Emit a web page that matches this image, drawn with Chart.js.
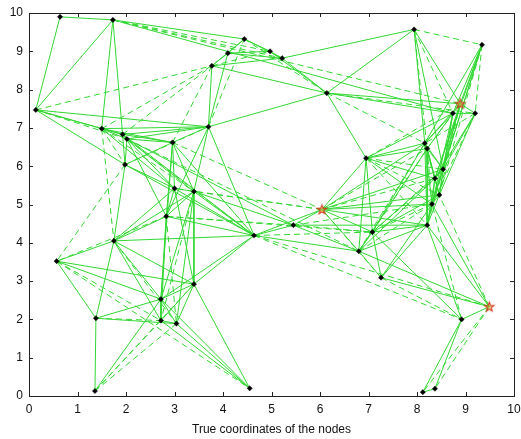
<!DOCTYPE html>
<html><head><meta charset="utf-8">
<script src="https://cdn.jsdelivr.net/npm/chart.js@4"></script>
<style>html,body{margin:0;padding:0;background:#fff;} #wrap{width:521px;height:439px;}</style>
</head><body><div id="wrap"><canvas id="c" width="521" height="439"></canvas></div>
<script>
// ---- data ----
const nodeX = [0.64,1.73,0.14,1.50,1.93,2.02,1.98,2.96,3.70,3.77,4.10,4.44,4.97,5.22,6.14,7.94,9.34,8.89,8.74,9.20,8.16,8.21,8.54,8.37,8.46,8.31,8.21,6.95,7.08,6.80,7.26,6.04,5.45,4.64,3.00,3.40,2.83,1.75,0.57,3.40,2.72,1.38,2.72,3.04,1.36,4.55,8.92,9.49,8.12,8.37];
const nodeY = [9.90,9.82,7.47,6.98,6.83,6.71,6.04,6.62,7.03,8.62,8.95,9.32,9.00,8.82,7.91,9.57,9.17,7.63,7.38,7.38,6.60,6.46,5.92,5.68,5.25,5.01,4.46,6.21,4.28,3.78,3.09,4.87,4.46,4.19,5.42,5.34,4.69,4.05,3.52,2.92,2.53,2.03,1.97,1.89,0.13,0.20,2.00,2.33,0.10,0.19];
const anchorIdx = [17, 31, 47];
const tickValues = [0,1,2,3,4,5,6,7,8,9,10];
const xTitle = 'True coordinates of the nodes';
const solidEdges = [
[0,1],[0,2],[1,2],[1,3],[1,4],[1,11],[1,18],
[2,3],[2,4],[2,8],[2,6],
[3,4],[3,5],[3,7],[3,8],[3,34],
[4,5],[4,6],[4,7],[4,8],[4,34],[4,33],
[5,6],[5,7],[5,8],[5,35],[5,36],[5,32],
[6,7],[6,37],[6,34],[6,33],
[7,8],[7,34],[7,35],[7,36],[7,33],[7,40],
[8,9],[8,10],[8,14],[8,33],[8,35],[8,36],
[9,10],[9,11],[9,13],[9,14],
[10,11],[10,12],[10,13],
[11,12],[11,13],[12,13],[12,14],[13,14],[13,15],
[14,15],[14,17],[14,18],[14,27],
[15,17],[15,20],[15,22],
[16,17],[16,18],[16,20],[16,22],[16,23],[16,25],
[17,18],[17,19],[17,20],[17,22],[17,23],[17,25],
[18,19],[18,20],[18,21],[18,22],[18,24],[18,26],[18,27],
[19,22],[19,23],[19,24],
[20,21],[20,22],[20,23],[20,25],[20,26],
[21,22],[21,23],[21,24],[21,26],
[22,23],[22,24],[22,25],[23,24],[23,25],[23,26],[24,25],[24,26],[25,26],
[27,20],[27,21],[27,23],[27,25],[27,28],[27,29],[27,31],
[28,20],[28,22],[28,24],[28,26],[28,29],[28,30],[28,31],[28,46],
[29,21],[29,23],[29,26],[29,30],[29,31],[29,32],[29,33],[29,47],
[30,25],[30,26],[30,47],
[31,20],[31,22],[31,24],[31,25],[31,26],[31,32],[31,33],
[32,33],[32,35],[32,26],
[33,34],[33,35],[33,36],[33,37],[33,39],[33,40],
[34,35],[34,36],[34,37],[34,39],
[35,36],[35,37],[35,39],[35,40],[35,43],
[36,37],[36,40],[36,42],
[37,38],[37,39],[37,40],[37,41],[37,42],
[38,39],[38,40],[38,41],
[39,40],[39,42],[39,43],[39,45],
[40,41],[40,42],[40,43],[40,44],[40,45],
[41,43],[41,44],[42,43],[42,45],[43,45],
[46,47],[46,48],[46,49],[46,26],[47,26],[47,25],[48,49]
];
const dashedEdges = [
[1,13],[1,17],[1,12],[2,5],[2,9],[3,6],[3,9],[3,37],[4,9],[6,38],[6,8],[7,9],[7,31],[8,11],[9,12],[11,14],
[14,19],[14,20],[15,16],[15,18],[15,21],[16,19],[16,24],[17,21],[17,24],[17,27],[19,20],[19,25],
[20,24],[21,25],[22,26],[27,22],[27,24],[27,26],[28,21],[28,23],[28,25],[29,20],[29,25],[30,31],[31,21],
[31,23],[31,35],[31,34],[32,25],[32,36],[32,28],[33,28],[36,28],[5,29],[36,38],[35,42],[36,43],[37,43],
[38,42],[38,45],[39,44],[41,42],[42,44],[43,44],[46,25],[47,48],[47,49],[30,46],[47,24],[5,33],[3,35],
[33,46],[33,47]
];

// ---- styling / construction ----
const GREEN = 'rgb(50,216,50)';
function edgeDataset(e, dashed) {
  return {
    type: 'scatter', showLine: true,
    data: [{x: nodeX[e[0]], y: nodeY[e[0]]}, {x: nodeX[e[1]], y: nodeY[e[1]]}],
    borderColor: GREEN, borderWidth: 1, borderDash: dashed ? [6, 4] : [],
    pointRadius: 0, pointHoverRadius: 0, fill: false, tension: 0, order: 2
  };
}
function starCanvas() {
  const c = document.createElement('canvas'); c.width = 13; c.height = 13;
  const g = c.getContext('2d'); g.beginPath();
  for (let i = 0; i < 10; i++) {
    const r = i % 2 ? 2.0 : 4.9, a = -Math.PI / 2 + i * Math.PI / 5;
    const px = 6.5 + r * Math.cos(a), py = 6.8 + r * Math.sin(a);
    if (i) g.lineTo(px, py); else g.moveTo(px, py);
  }
  g.closePath(); g.fillStyle = 'rgba(235,170,70,0.55)'; g.fill();
  g.strokeStyle = '#d4381c'; g.lineWidth = 1.1; g.stroke();
  return c;
}
const datasets = [];
const plainPts = [], anchorPts = [];
nodeX.forEach((x, i) => (anchorIdx.includes(i) ? anchorPts : plainPts).push({x, y: nodeY[i]}));
datasets.push({type: 'scatter', data: plainPts, pointStyle: 'rectRot', pointRadius: 2.6,
  backgroundColor: '#000', borderColor: '#000', borderWidth: 0.5, order: 0});
datasets.push({type: 'scatter', data: anchorPts, pointStyle: starCanvas(), pointRadius: 6, order: 0});
solidEdges.forEach(e => datasets.push(edgeDataset(e, false)));
dashedEdges.forEach(e => datasets.push(edgeDataset(e, true)));

const AX = '#222';
const FONT = {family: "'Liberation Sans', Arial, sans-serif", size: 12};
const inwardTicks = {
  id: 'inwardTicks',
  afterDatasetsDraw(chart) {
    const {ctx, chartArea: a, scales} = chart, L = 4;
    ctx.save(); ctx.strokeStyle = AX; ctx.lineWidth = 1; ctx.beginPath();
    tickValues.forEach(v => {
      const px = Math.round(scales.x.getPixelForValue(v)) + 0.5;
      ctx.moveTo(px, a.bottom); ctx.lineTo(px, a.bottom - L);
      ctx.moveTo(px, a.top); ctx.lineTo(px, a.top + L);
      const py = Math.round(scales.y.getPixelForValue(v)) + 0.5;
      ctx.moveTo(a.left, py); ctx.lineTo(a.left + L, py);
      ctx.moveTo(a.right, py); ctx.lineTo(a.right - L, py);
    });
    ctx.stroke(); ctx.restore();
  }
};
const hiddenAxis = (pos, size) => ({
  type: 'linear', position: pos, min: 0, max: 10,
  grid: {display: false, drawTicks: false}, ticks: {display: false},
  border: {display: true, color: AX, width: 1},
  afterFit(s) { if (pos === 'top') s.height = size; else s.width = size; s.paddingLeft = s.paddingRight = s.paddingTop = s.paddingBottom = 0; }
});

new Chart(document.getElementById('c'), {
  type: 'scatter',
  data: {datasets},
  options: {
    responsive: false, animation: false, events: [],
    layout: {padding: 0},
    plugins: {legend: {display: false}, tooltip: {enabled: false}},
    scales: {
      x: {
        type: 'linear', position: 'bottom', min: 0, max: 10,
        grid: {display: false, drawTicks: false},
        border: {display: true, color: AX, width: 1},
        ticks: {stepSize: 1, padding: 6, color: '#111', font: FONT, maxRotation: 0,
                callback: v => tickValues.includes(v) ? String(v) : ''},
        title: {display: true, text: xTitle, color: '#111', font: {...FONT, lineHeight: 1.6}, padding: 0},
        afterFit(s) { s.height = 43; s.paddingLeft = 0; s.paddingRight = 0; }
      },
      y: {
        type: 'linear', position: 'left', min: 0, max: 10,
        grid: {display: false, drawTicks: false},
        border: {display: true, color: AX, width: 1},
        ticks: {stepSize: 1, padding: 6, color: '#111', font: FONT,
                callback: v => tickValues.includes(v) ? String(v) : ''},
        afterFit(s) { s.width = 29; s.paddingTop = 0; s.paddingBottom = 0; }
      },
      x2: hiddenAxis('top', 13),
      y2: hiddenAxis('right', 6)
    }
  },
  plugins: [inwardTicks]
});
</script>
</body></html>
